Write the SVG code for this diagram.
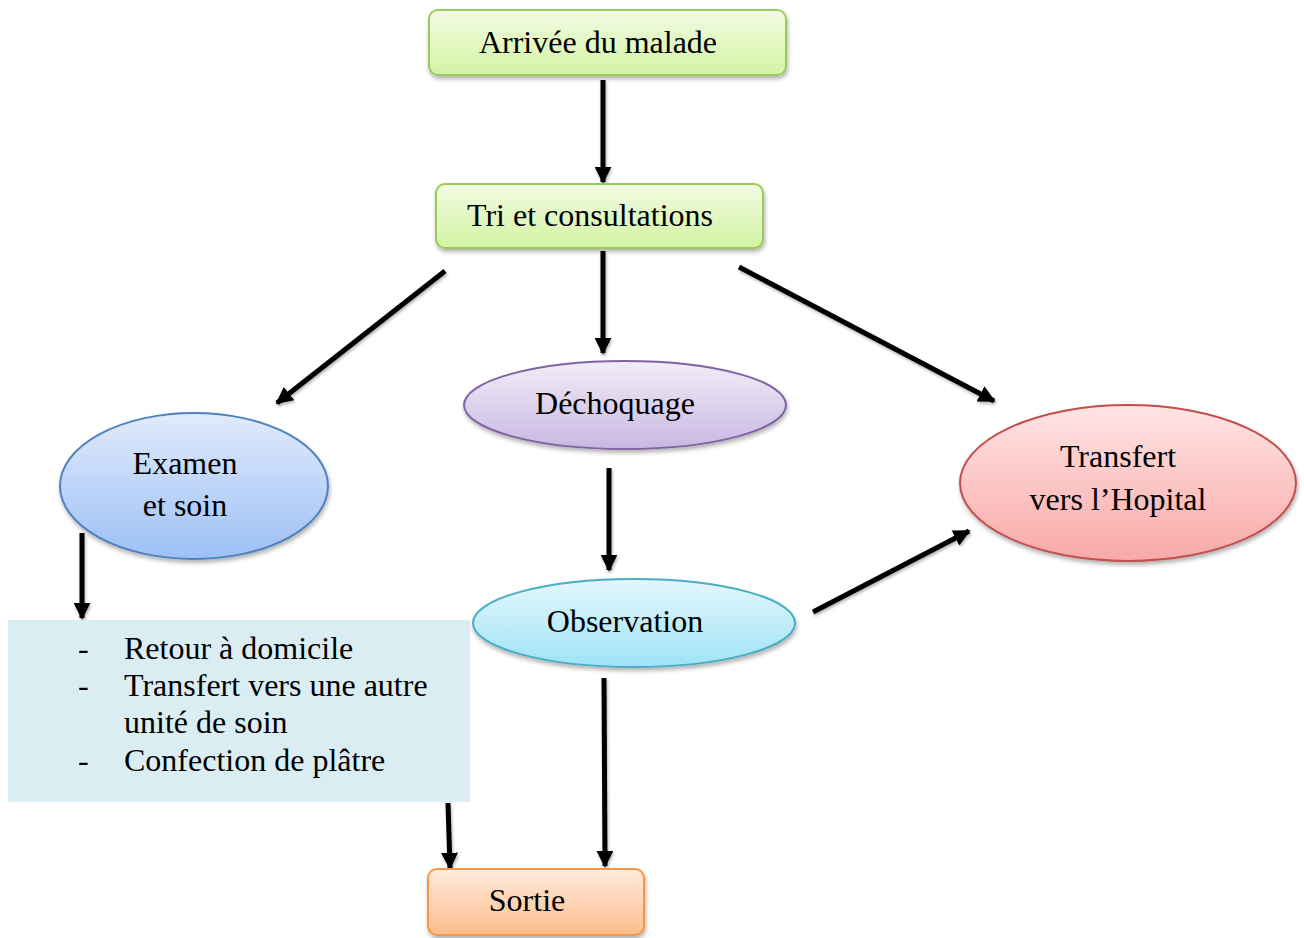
<svg xmlns="http://www.w3.org/2000/svg" width="1304" height="938" viewBox="0 0 1304 938">
  <style>
    .lbl { font-family: "Liberation Serif", "Times New Roman", serif; font-size: 32px; fill: #000; }
    .mid { text-anchor: middle; }
    .conn { stroke: #000; stroke-width: 5; fill: none; marker-end: url(#head); }
  </style>
  <defs>
    <marker id="head" viewBox="0 0 10 10" refX="9" refY="5" markerWidth="3.4" markerHeight="3.4" orient="auto" markerUnits="strokeWidth">
      <path d="M0,0 L10,5 L0,10 z" fill="#000"/>
    </marker>
    <filter id="shadow" x="-10%" y="-10%" width="125%" height="135%">
      <feDropShadow dx="1" dy="3" stdDeviation="2" flood-color="#000" flood-opacity="0.3"/>
    </filter>
    <filter id="lshadow" x="-20%" y="-20%" width="140%" height="140%">
      <feDropShadow dx="1" dy="2" stdDeviation="1.5" flood-color="#000" flood-opacity="0.3"/>
    </filter>
    <linearGradient id="gGreen" x1="0" y1="0" x2="0" y2="1">
      <stop offset="0" stop-color="#F2FBE4"/>
      <stop offset="1" stop-color="#D3F3A2"/>
    </linearGradient>
    <linearGradient id="gBlue" x1="0" y1="0" x2="0" y2="1">
      <stop offset="0" stop-color="#E1EBFB"/>
      <stop offset="1" stop-color="#9DC0F6"/>
    </linearGradient>
    <linearGradient id="gPurple" x1="0" y1="0" x2="0" y2="1">
      <stop offset="0" stop-color="#F1EDF7"/>
      <stop offset="1" stop-color="#C8B8E2"/>
    </linearGradient>
    <linearGradient id="gRed" x1="0" y1="0" x2="0" y2="1">
      <stop offset="0" stop-color="#FFE4E4"/>
      <stop offset="1" stop-color="#F8A9A8"/>
    </linearGradient>
    <linearGradient id="gCyan" x1="0" y1="0" x2="0" y2="1">
      <stop offset="0" stop-color="#E4F7FC"/>
      <stop offset="1" stop-color="#9EE3F6"/>
    </linearGradient>
    <linearGradient id="gOrange" x1="0" y1="0" x2="0" y2="1">
      <stop offset="0" stop-color="#FFEADB"/>
      <stop offset="1" stop-color="#FBBE8E"/>
    </linearGradient>
  </defs>

  <rect width="1304" height="938" fill="#fff"/>

  <g id="connectors" filter="url(#lshadow)">
    <line class="conn" x1="603" y1="80" x2="603" y2="182"/>
    <line class="conn" x1="445" y1="271" x2="277" y2="403"/>
    <line class="conn" x1="603" y1="251" x2="603" y2="353"/>
    <line class="conn" x1="739" y1="267" x2="994" y2="401"/>
    <line class="conn" x1="609" y1="468" x2="609" y2="570"/>
    <line class="conn" x1="813" y1="612" x2="969" y2="531"/>
    <line class="conn" x1="604" y1="678" x2="605" y2="866"/>
    <line class="conn" x1="82" y1="533" x2="82" y2="618"/>
    <line class="conn" x1="448" y1="803" x2="450" y2="868"/>
  </g>

  <g id="arrivee">
    <rect x="429" y="10" width="357" height="65" rx="9" fill="url(#gGreen)" stroke="#9BC95A" stroke-width="2" filter="url(#shadow)"/>
    <text class="lbl mid" x="598" y="53">Arrivée du malade</text>
  </g>

  <g id="tri">
    <rect x="436" y="184" width="327" height="64" rx="9" fill="url(#gGreen)" stroke="#9BC95A" stroke-width="2" filter="url(#shadow)"/>
    <text class="lbl mid" x="590" y="226">Tri et consultations</text>
  </g>

  <g id="examen">
    <ellipse cx="194" cy="486" rx="134" ry="73" fill="url(#gBlue)" stroke="#4F81BD" stroke-width="2" filter="url(#shadow)"/>
    <text class="lbl mid" x="185" y="474">Examen</text>
    <text class="lbl mid" x="185" y="516">et soin</text>
  </g>

  <g id="dechoquage">
    <ellipse cx="625" cy="405" rx="161" ry="44" fill="url(#gPurple)" stroke="#8064A2" stroke-width="2" filter="url(#shadow)"/>
    <text class="lbl mid" x="615" y="414">Déchoquage</text>
  </g>

  <g id="transfert-hopital">
    <ellipse cx="1128" cy="483" rx="168" ry="78" fill="url(#gRed)" stroke="#C0504D" stroke-width="2" filter="url(#shadow)"/>
    <text class="lbl mid" x="1118" y="467">Transfert</text>
    <text class="lbl mid" x="1118" y="510">vers l’Hopital</text>
  </g>

  <g id="observation">
    <ellipse cx="634" cy="623" rx="161" ry="44" fill="url(#gCyan)" stroke="#4BACC6" stroke-width="2" filter="url(#shadow)"/>
    <text class="lbl mid" x="625" y="632">Observation</text>
  </g>

  <g id="issues">
    <rect x="8" y="620" width="462" height="182" fill="#DAEDF3"/>
    <text class="lbl" x="78" y="659">-</text>
    <text class="lbl" x="124" y="659">Retour à domicile</text>
    <text class="lbl" x="78" y="696">-</text>
    <text class="lbl" x="124" y="696">Transfert vers une autre</text>
    <text class="lbl" x="124" y="733">unité de soin</text>
    <text class="lbl" x="78" y="771">-</text>
    <text class="lbl" x="124" y="771">Confection de plâtre</text>
  </g>

  <g id="sortie">
    <rect x="428" y="869" width="216" height="66" rx="9" fill="url(#gOrange)" stroke="#F79646" stroke-width="2" filter="url(#shadow)"/>
    <text class="lbl mid" x="527" y="911">Sortie</text>
  </g>
</svg>
